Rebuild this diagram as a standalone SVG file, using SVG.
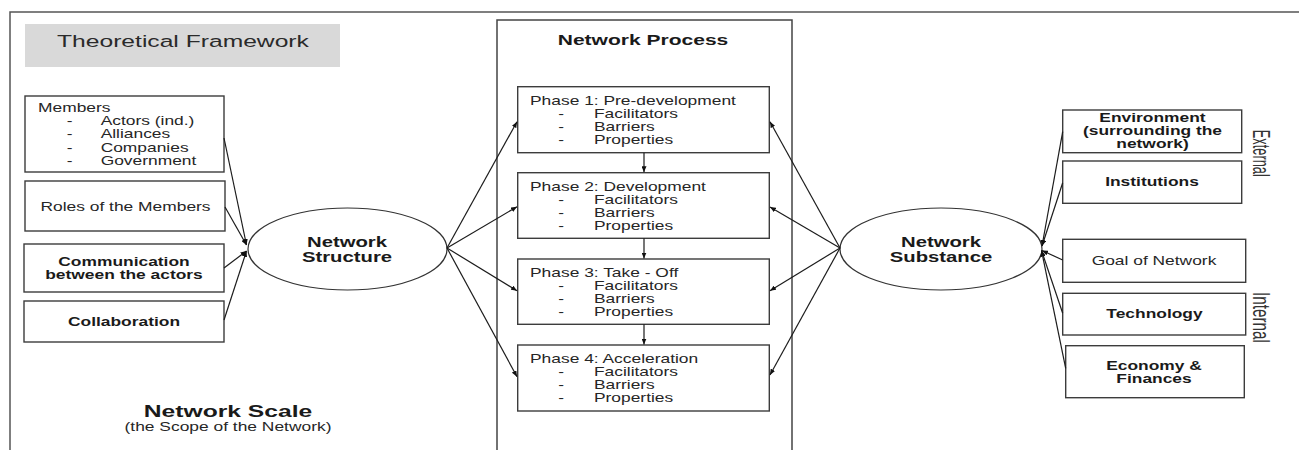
<svg xmlns="http://www.w3.org/2000/svg" width="1299" height="450" viewBox="0 0 1299 450">
<defs>
<style>
.box{fill:#fff;stroke:#3c3c3c;stroke-width:1.4}
.ell{fill:#fff;stroke:#333;stroke-width:1.2}
.t{font-family:"Liberation Sans",Arial,Helvetica,sans-serif;font-size:12px;fill:#262626}
.b{font-weight:bold;fill:#1a1a1a}
.c{text-anchor:middle}
.conn path{fill:none;stroke:#1c1c1c;stroke-width:1.2;marker-end:url(#ah)}
.frame{fill:none;stroke:#555;stroke-width:1.5}
</style>
<marker id="ah" markerWidth="6" markerHeight="5" refX="6" refY="2.5" orient="auto" markerUnits="userSpaceOnUse">
<path d="M0,0 L6,2.5 L0,5 z" fill="#111"/>
</marker>
</defs>
<rect width="1299" height="450" fill="#fff"/>
<path class="frame" d="M10,452 V12 H1301"/>

<g id="title">
<rect x="25" y="24" width="315" height="43" fill="#d9d9d9"/>
<text class="t" style="font-size:17px;fill:#2a2a2a" transform="translate(57,47.3) scale(1.45,1)">Theoretical Framework</text>
</g>

<g id="network-process">
<path class="frame" style="stroke:#444" d="M497,452 V20 H792 V452"/>
<text class="t b c" style="font-size:14.5px" transform="translate(643,45) scale(1.45,1)">Network Process</text>
</g>

<g id="members">
<rect class="box" x="25" y="96" width="199" height="76"/>
<text class="t" transform="translate(38,0) scale(1.45,1)"><tspan x="0" y="111.7">Members</tspan><tspan x="19.8" y="125">-</tspan><tspan x="43.2" y="125">Actors (ind.)</tspan><tspan x="19.8" y="138.3">-</tspan><tspan x="43.2" y="138.3">Alliances</tspan><tspan x="19.8" y="151.7">-</tspan><tspan x="43.2" y="151.7">Companies</tspan><tspan x="19.8" y="165">-</tspan><tspan x="43.2" y="165">Government</tspan></text>
</g>

<g id="roles">
<rect class="box" x="25" y="181" width="200" height="50"/>
<text class="t c" transform="translate(125.5,210.7) scale(1.45,1)">Roles of the Members</text>
</g>

<g id="communication">
<rect class="box" x="24" y="244" width="200" height="48"/>
<text class="t b c" transform="translate(124,0) scale(1.45,1)"><tspan x="0" y="266.5">Communication</tspan><tspan x="0" y="279.3">between the actors</tspan></text>
</g>

<g id="collaboration">
<rect class="box" x="24" y="301" width="200" height="41"/>
<text class="t b c" transform="translate(124,326) scale(1.45,1)">Collaboration</text>
</g>

<g id="network-scale">
<text class="t b c" style="font-size:17px" transform="translate(228,416.7) scale(1.45,1)">Network Scale</text>
<text class="t c" transform="translate(228,430.5) scale(1.45,1)">(the Scope of the Network)</text>
</g>

<g id="network-structure">
<ellipse class="ell" cx="347.5" cy="249" rx="99.5" ry="41"/>
<text class="t b c" style="font-size:14px" transform="translate(347,0) scale(1.45,1)"><tspan x="0" y="247.3">Network</tspan><tspan x="0" y="261.7">Structure</tspan></text>
</g>

<g id="phase1">
<rect class="box" x="517.7" y="86.7" width="251.6" height="66"/>
<text class="t" transform="translate(530,0) scale(1.45,1)"><tspan x="0" y="105.2">Phase 1: Pre-development</tspan><tspan x="19.5" y="118.2">-</tspan><tspan x="44.1" y="118.2">Facilitators</tspan><tspan x="19.5" y="131.2">-</tspan><tspan x="44.1" y="131.2">Barriers</tspan><tspan x="19.5" y="144.2">-</tspan><tspan x="44.1" y="144.2">Properties</tspan></text>
</g>

<g id="phase2">
<rect class="box" x="517.7" y="172.7" width="251.6" height="65.6"/>
<text class="t" transform="translate(530,0) scale(1.45,1)"><tspan x="0" y="191">Phase 2: Development</tspan><tspan x="19.5" y="204">-</tspan><tspan x="44.1" y="204">Facilitators</tspan><tspan x="19.5" y="217">-</tspan><tspan x="44.1" y="217">Barriers</tspan><tspan x="19.5" y="230">-</tspan><tspan x="44.1" y="230">Properties</tspan></text>
</g>

<g id="phase3">
<rect class="box" x="517.7" y="259" width="251.6" height="65.3"/>
<text class="t" transform="translate(530,0) scale(1.45,1)"><tspan x="0" y="277">Phase 3: Take - Off</tspan><tspan x="19.5" y="290">-</tspan><tspan x="44.1" y="290">Facilitators</tspan><tspan x="19.5" y="303">-</tspan><tspan x="44.1" y="303">Barriers</tspan><tspan x="19.5" y="316">-</tspan><tspan x="44.1" y="316">Properties</tspan></text>
</g>

<g id="phase4">
<rect class="box" x="517.7" y="345" width="251.6" height="66"/>
<text class="t" transform="translate(530,0) scale(1.45,1)"><tspan x="0" y="363.4">Phase 4: Acceleration</tspan><tspan x="19.5" y="376.4">-</tspan><tspan x="44.1" y="376.4">Facilitators</tspan><tspan x="19.5" y="389.4">-</tspan><tspan x="44.1" y="389.4">Barriers</tspan><tspan x="19.5" y="402.4">-</tspan><tspan x="44.1" y="402.4">Properties</tspan></text>
</g>

<g id="network-substance">
<ellipse class="ell" cx="941" cy="249" rx="101" ry="41"/>
<text class="t b c" style="font-size:14px" transform="translate(941,0) scale(1.45,1)"><tspan x="0" y="246.7">Network</tspan><tspan x="0" y="261.7">Substance</tspan></text>
</g>

<g id="environment">
<rect class="box" x="1062.7" y="110" width="179" height="42.7"/>
<text class="t b c" transform="translate(1152.5,0) scale(1.45,1)"><tspan x="0" y="121.7">Environment</tspan><tspan x="0" y="135">(surrounding the</tspan><tspan x="0" y="148.2">network)</tspan></text>
</g>

<g id="institutions">
<rect class="box" x="1062.7" y="161" width="179" height="42.3"/>
<text class="t b c" transform="translate(1152,186) scale(1.45,1)">Institutions</text>
</g>

<g id="goal">
<rect class="box" x="1062.7" y="239.3" width="183" height="43"/>
<text class="t c" transform="translate(1154,265) scale(1.45,1)">Goal of Network</text>
</g>

<g id="technology">
<rect class="box" x="1062.7" y="293.3" width="183" height="41.7"/>
<text class="t b c" transform="translate(1154.5,318.3) scale(1.45,1)">Technology</text>
</g>

<g id="economy">
<rect class="box" x="1065.7" y="345.7" width="178.6" height="52"/>
<text class="t b c" transform="translate(1154,0) scale(1.45,1)"><tspan x="0" y="370">Economy &amp;</tspan><tspan x="0" y="382.7">Finances</tspan></text>
</g>

<g id="external-label">
<text class="t c" style="font-size:16px;fill:#333" textLength="47" lengthAdjust="spacingAndGlyphs" transform="translate(1252.5,153.3) scale(1.45,1) rotate(90)">External</text>
</g>
<g id="internal-label">
<text class="t c" style="font-size:16px;fill:#333" textLength="51" lengthAdjust="spacingAndGlyphs" transform="translate(1252.5,317.5) scale(1.45,1) rotate(90)">Internal</text>
</g>

<g id="connectors" class="conn">
<path d="M224,138 L246.5,245"/>
<path d="M225,207 L246.5,245"/>
<path d="M224,268 L246.5,251"/>
<path d="M224,320 L246.5,251"/>
<path d="M447,248 L517,121.7"/>
<path d="M447,248 L517,206.7"/>
<path d="M447,248 L517,290.7"/>
<path d="M447,248 L517,376.7"/>
<path d="M840,248 L770,121.7"/>
<path d="M840,248 L770,207"/>
<path d="M840,248 L770,290.7"/>
<path d="M840,248 L770,375"/>
<path d="M1062.7,131.7 L1042,246"/>
<path d="M1062.7,182.7 L1042,246"/>
<path d="M1062.7,260 L1042,250.5"/>
<path d="M1062.7,313.3 L1041.5,250.5"/>
<path d="M1065.7,368.3 L1041.5,250.5"/>
<path d="M644,152.7 L644,172.2"/>
<path d="M644,238.3 L644,258.5"/>
<path d="M644,324.3 L644,344.5"/>
</g>
</svg>
